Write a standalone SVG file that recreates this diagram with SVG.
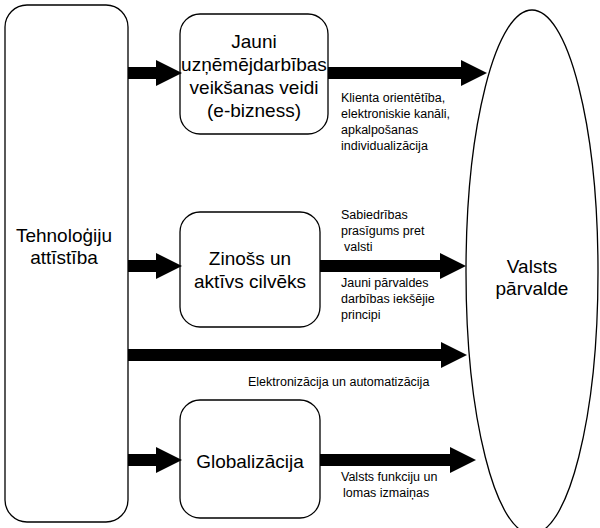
<svg xmlns="http://www.w3.org/2000/svg" width="600" height="528" viewBox="0 0 600 528">
<style>
.n{fill:#fff;stroke:#000;stroke-width:1.3}
.big{font-family:"Liberation Sans",Arial,sans-serif;font-size:19px;text-anchor:middle}
.sm{font-family:"Liberation Sans",Arial,sans-serif;font-size:12.5px}
.sh{stroke:#000;stroke-width:12}
</style>
<defs><marker id="ah" markerWidth="26" markerHeight="26" refX="0" refY="13" orient="auto" markerUnits="userSpaceOnUse" viewBox="0 0 26 26"><path d="M0,0L26,13L0,26z"/></marker></defs>
<rect width="600" height="528" fill="#fff"/>
<g id="tech"><rect class="n" x="5" y="5" width="123" height="517" rx="22"/>
<text class="big"><tspan x="64" y="242">Tehnoloģiju</tspan><tspan x="64" y="264">attīstība</tspan></text></g>
<g id="valsts"><ellipse class="n" cx="532" cy="272" rx="66" ry="262"/>
<text class="big"><tspan x="532" y="273">Valsts</tspan><tspan x="532" y="295">pārvalde</tspan></text></g>
<g id="ebiz"><rect class="n" x="180" y="14" width="148" height="120" rx="20"/>
<text class="big"><tspan x="254" y="48">Jauni</tspan><tspan x="254" y="71">uzņēmējdarbības</tspan><tspan x="254" y="94">veikšanas veidi</tspan><tspan x="254" y="117">(e-bizness)</tspan></text></g>
<g id="zinoss"><rect class="n" x="180" y="212" width="140" height="115" rx="20"/>
<text class="big"><tspan x="250" y="265">Zinošs un</tspan><tspan x="250" y="288">aktīvs cilvēks</tspan></text></g>
<g id="glob"><rect class="n" x="180" y="400" width="140" height="118" rx="20"/>
<text class="big"><tspan x="250" y="468">Globalizācija</tspan></text></g>
<g id="connectors">
<line class="sh" x1="128" y1="73" x2="156" y2="73" marker-end="url(#ah)"/>
<line class="sh" x1="328" y1="73" x2="461" y2="73" marker-end="url(#ah)"/>
<line class="sh" x1="128" y1="266" x2="156" y2="266" marker-end="url(#ah)"/>
<line class="sh" x1="320" y1="266" x2="440" y2="266" marker-end="url(#ah)"/>
<line class="sh" x1="128" y1="355" x2="441" y2="355" marker-end="url(#ah)"/>
<line class="sh" x1="128" y1="460" x2="156" y2="460" marker-end="url(#ah)"/>
<line class="sh" x1="320" y1="460" x2="450" y2="460" marker-end="url(#ah)"/>
</g>
<g id="labels" class="sm">
<text><tspan x="341" y="102">Klienta orientētība,</tspan><tspan x="341" y="118">elektroniskie kanāli,</tspan><tspan x="341" y="134">apkalpošanas</tspan><tspan x="341" y="150">individualizācija</tspan></text>
<text><tspan x="341" y="219">Sabiedrības</tspan><tspan x="341" y="235">prasīgums pret</tspan><tspan x="344" y="251">valsti</tspan></text>
<text><tspan x="341" y="287">Jauni pārvaldes</tspan><tspan x="341" y="303">darbības iekšējie</tspan><tspan x="341" y="319">principi</tspan></text>
<text x="248" y="386">Elektronizācija un automatizācija</text>
<text><tspan x="341" y="481">Valsts funkciju un</tspan><tspan x="343" y="497">lomas izmaiņas</tspan></text>
</g>
</svg>
